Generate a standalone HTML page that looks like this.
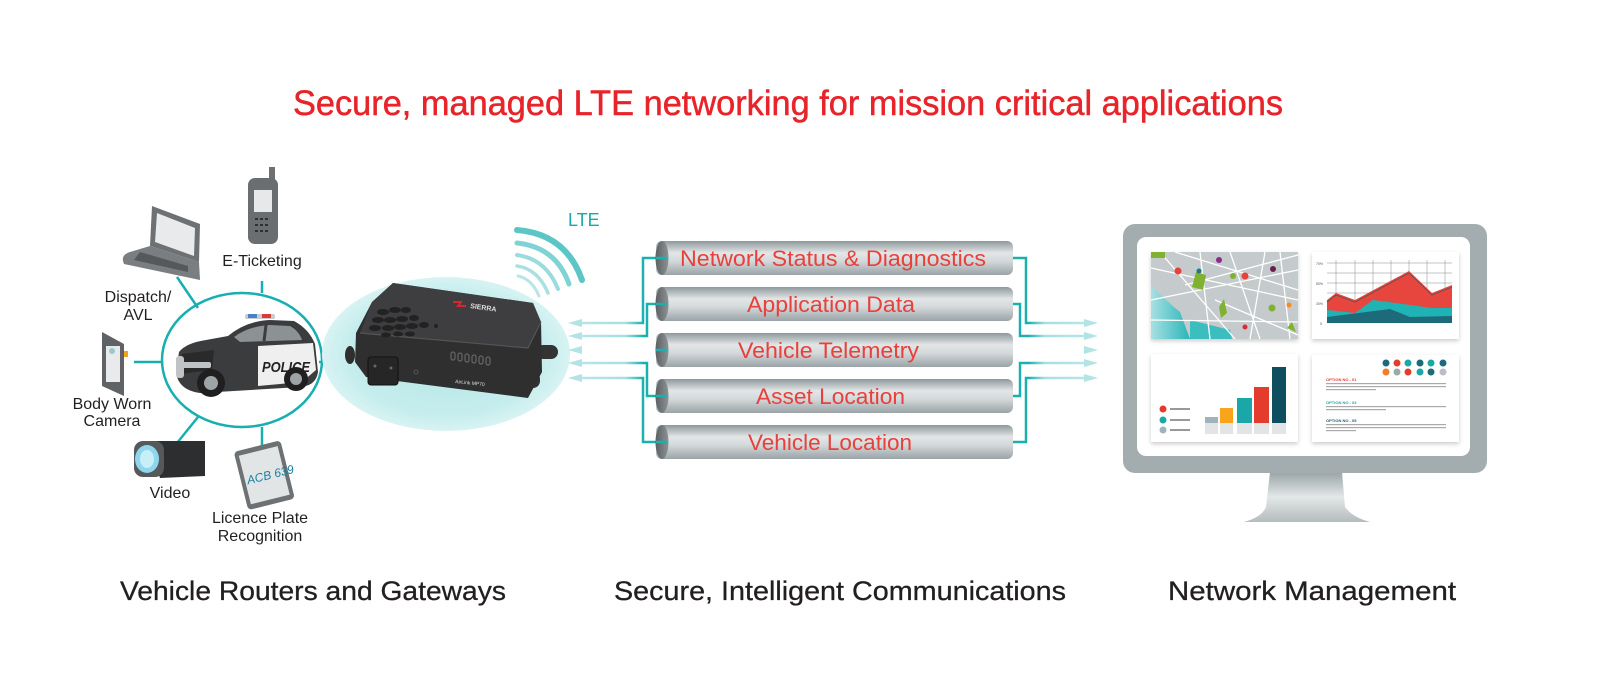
<!DOCTYPE html>
<html><head><meta charset="utf-8"><style>
html,body{margin:0;padding:0;background:#fff;width:1600px;height:700px;overflow:hidden}
svg{display:block}
text{font-family:"Liberation Sans",sans-serif}
</style></head><body>
<svg width="1600" height="700" viewBox="0 0 1600 700" xmlns="http://www.w3.org/2000/svg">
<defs>
<linearGradient id="pipe" x1="0" y1="0" x2="0" y2="1">
<stop offset="0" stop-color="#8e989b"/><stop offset="0.35" stop-color="#e2e6e7"/><stop offset="0.6" stop-color="#d3d8da"/><stop offset="1" stop-color="#9aa3a6"/></linearGradient>
<linearGradient id="pend" x1="0" y1="0" x2="1" y2="0">
<stop offset="0" stop-color="#5c6062"/><stop offset="1" stop-color="#8d9294"/></linearGradient>
<radialGradient id="glow" cx="0.5" cy="0.5" r="0.5">
<stop offset="0" stop-color="#b4e6e6"/><stop offset="0.8" stop-color="#c6eded"/><stop offset="1" stop-color="#d8f3f3"/></radialGradient>
<linearGradient id="arL" x1="0" y1="0" x2="1" y2="0">
<stop offset="0" stop-color="#b9e6e8"/><stop offset="0.55" stop-color="#a7dfe1"/><stop offset="0.75" stop-color="#1ab0b0"/></linearGradient>
<linearGradient id="arR" x1="0" y1="0" x2="1" y2="0">
<stop offset="0.25" stop-color="#1ab0b0"/><stop offset="0.45" stop-color="#a7dfe1"/><stop offset="1" stop-color="#b9e6e8"/></linearGradient>
<linearGradient id="neck" x1="0" y1="0" x2="0" y2="1">
<stop offset="0" stop-color="#9aa4a6"/><stop offset="0.5" stop-color="#e3e7e8"/><stop offset="1" stop-color="#b5bcbe"/></linearGradient>
<linearGradient id="water" x1="0" y1="0" x2="1" y2="0">
<stop offset="0" stop-color="#a8e0e2"/><stop offset="1" stop-color="#29b5b8"/></linearGradient>
<filter id="sh" x="-10%" y="-10%" width="120%" height="130%"><feDropShadow dx="0" dy="2" stdDeviation="2" flood-color="#000" flood-opacity="0.2"/></filter>
</defs>

<text x="293" y="115" font-size="35" fill="#e8242a" textLength="990" lengthAdjust="spacingAndGlyphs" stroke="#e8242a" stroke-width="0.5">Secure, managed LTE networking for mission critical applications</text>

<text x="120" y="600" font-size="27" fill="#231f20" textLength="386" lengthAdjust="spacingAndGlyphs" stroke="#231f20" stroke-width="0.3">Vehicle Routers and Gateways</text>
<text x="614" y="600" font-size="27" fill="#231f20" textLength="452" lengthAdjust="spacingAndGlyphs" stroke="#231f20" stroke-width="0.3">Secure, Intelligent Communications</text>
<text x="1168" y="600" font-size="27" fill="#231f20" textLength="288" lengthAdjust="spacingAndGlyphs" stroke="#231f20" stroke-width="0.3">Network Management</text>

<g stroke="#19aeb0" stroke-width="2.5" fill="none">
<ellipse cx="242" cy="360" rx="80" ry="67"/>
<line x1="262" y1="281" x2="262" y2="293"/>
<line x1="177" y1="277" x2="198" y2="308"/>
<line x1="134" y1="362" x2="163" y2="362"/>
<line x1="177" y1="443" x2="198" y2="417"/>
<line x1="262" y1="427" x2="262" y2="458"/>
<line x1="319" y1="362" x2="350" y2="362"/>
</g>

<ellipse cx="446" cy="354" rx="124" ry="77" fill="url(#glow)"/>

<g fill="none" stroke="#7fd3d4" stroke-linecap="round">
<path d="M517,230 Q566,234 582,280" stroke-width="6" stroke="#5cc6c7"/>
<path d="M517,243 Q556,247 569,284" stroke-width="5"/>
<path d="M517,255 Q546,259 558,289" stroke-width="4" stroke="#9adcdd"/>
<path d="M517,266 Q538,269 548,293" stroke-width="3.5" stroke="#a9e1e2"/>
<path d="M518,276 Q532,279 539,296" stroke-width="3" stroke="#b8e6e7"/>
</g>
<text x="568" y="226" font-size="18" fill="#1aa8a8">LTE</text>

<g>
<ellipse cx="350" cy="355" rx="5" ry="9" fill="#2f2f2f"/>
<rect x="536" y="345" width="22" height="14" rx="7" fill="#333"/>
<rect x="520" y="372" width="20" height="16" rx="7" fill="#333"/>
<path d="M393,283 L533,303 L541,322 L542,372 L528,398 L366,377 L355,362 L356,333 L372,302 Z" fill="#2f2f30"/>
<path d="M393,283 L533,303 L541,322 L528,348 L360,333 L372,302 Z" fill="#3e3e40"/>
<path d="M360,333 L528,348 L541,322" fill="none" stroke="#555" stroke-width="1.2"/>
<g fill="#222">
<ellipse cx="383" cy="312" rx="6" ry="3"/><ellipse cx="395" cy="310" rx="6" ry="3"/><ellipse cx="406" cy="310" rx="5" ry="3"/>
<ellipse cx="378" cy="320" rx="6" ry="3"/><ellipse cx="390" cy="320" rx="6" ry="3"/><ellipse cx="402" cy="319" rx="6" ry="3"/><ellipse cx="414" cy="318" rx="5" ry="3"/>
<ellipse cx="375" cy="328" rx="6" ry="3"/><ellipse cx="388" cy="328" rx="6" ry="3"/><ellipse cx="400" cy="327" rx="6" ry="3"/><ellipse cx="412" cy="326" rx="6" ry="3"/><ellipse cx="424" cy="325" rx="5" ry="3"/>
<ellipse cx="386" cy="335" rx="5" ry="2.5"/><ellipse cx="398" cy="334" rx="5" ry="2.5"/><ellipse cx="410" cy="334" rx="5" ry="2.5"/>
<circle cx="436" cy="326" r="2"/>
</g>
<path d="M453,302 l8,0 l-3,4 l8,0" stroke="#d8262c" stroke-width="2" fill="none"/>
<text x="470" y="308" font-size="7" fill="#ddd" font-weight="bold" transform="rotate(8 470 308)">SIERRA</text>
<rect x="368" y="357" width="30" height="28" rx="3" fill="#262627" stroke="#111"/>
<circle cx="375" cy="366" r="1.5" fill="#666"/><circle cx="391" cy="368" r="1.5" fill="#666"/>
<circle cx="416" cy="372" r="2" fill="none" stroke="#555"/>
<g fill="none" stroke="#666" stroke-width="1.2">
<rect x="451" y="352" width="4" height="8" rx="2"/><rect x="458" y="353" width="4" height="8" rx="2"/><rect x="465" y="354" width="4" height="8" rx="2"/><rect x="472" y="355" width="4" height="8" rx="2"/><rect x="479" y="356" width="4" height="8" rx="2"/><rect x="486" y="357" width="4" height="8" rx="2"/>
</g>
<text x="455" y="383" font-size="5" fill="#ddd" transform="rotate(6 455 383)">AirLink MP70</text>
</g>

<g>
<rect x="245" y="314" width="30" height="5" rx="2" fill="#ccc"/>
<rect x="248" y="314" width="9" height="4" fill="#4a7fd0"/><rect x="262" y="314" width="9" height="4" fill="#d93a3a"/>
<path d="M176,372 L179,352 Q186,343 206,340 L228,336 Q246,321 270,320 L294,321 Q309,329 315,344 L318,372 Q316,386 300,387 L200,393 Q178,390 176,372 Z" fill="#3b3c3e"/>
<path d="M234,337 Q249,326 270,325 L290,326 Q299,331 302,340 L240,342 Z" fill="#8c9194"/>
<line x1="266" y1="325" x2="264" y2="341" stroke="#3b3c3e" stroke-width="3"/>
<path d="M258,346 L313,343 L316,370 L302,382 L258,386 Z" fill="#efefef"/>
<text x="262" y="372" font-size="15" font-style="italic" font-weight="bold" fill="#222" textLength="48" lengthAdjust="spacingAndGlyphs">POLICE</text>
<path d="M182,354 L214,350 L212,370 L180,374 Z" fill="#2a2a2b"/>
<rect x="176" y="356" width="8" height="22" rx="3" fill="#bfc3c5"/>
<rect x="181" y="362" width="30" height="6" rx="2" fill="#bfc3c5"/>
<circle cx="211" cy="383" r="14" fill="#1f1f20"/><circle cx="211" cy="383" r="7" fill="#9ea3a6"/>
<circle cx="296" cy="379" r="12" fill="#1f1f20"/><circle cx="296" cy="379" r="6" fill="#9ea3a6"/>
</g>

<g>
<path d="M152,206 L200,224 L199,262 L150,246 Z" fill="#6d7174"/>
<path d="M157,213 L195,228 L194,256 L155,242 Z" fill="#e8eaeb"/>
<path d="M150,246 L199,262 L200,280 L124,264 Q120,255 130,252 Z" fill="#7a7e81"/>
<path d="M140,252 L188,266 L188,272 L134,260 Z" fill="#55595c"/>
</g>
<g>
<rect x="269" y="167" width="6" height="14" fill="#6d7174"/>
<rect x="248" y="178" width="30" height="66" rx="7" fill="#6a6e71"/>
<rect x="254" y="190" width="18" height="22" fill="#e6e8e9"/>
<g fill="#2e3032"><rect x="255" y="218" width="3" height="2"/><rect x="260" y="218" width="3" height="2"/><rect x="265" y="218" width="3" height="2"/><rect x="255" y="224" width="3" height="2"/><rect x="260" y="224" width="3" height="2"/><rect x="265" y="224" width="3" height="2"/><rect x="255" y="230" width="3" height="2"/><rect x="260" y="230" width="3" height="2"/><rect x="265" y="230" width="3" height="2"/></g>
</g>
<g>
<path d="M102,332 L124,344 L124,396 L102,386 Z" fill="#5f6366"/>
<rect x="106" y="346" width="14" height="36" fill="#e8eaeb"/>
<circle cx="112" cy="351" r="3" fill="#9bc7d3"/>
<rect x="124" y="351" width="4" height="6" fill="#f6a11c"/>
</g>
<g>
<path d="M148,441 L205,441 L205,476 L160,478 Z" fill="#2d2e30"/>
<rect x="134" y="441" width="30" height="36" rx="9" fill="#55595c"/>
<ellipse cx="147" cy="459" rx="12" ry="14" fill="#8fd6ec"/>
<ellipse cx="147" cy="459" rx="7" ry="9" fill="#c8eef8"/>
</g>
<g transform="rotate(-14 265 474)">
<rect x="240" y="445" width="48" height="60" rx="4" fill="#6d7174"/>
<rect x="244" y="450" width="40" height="50" fill="#e1e5e6"/>
<text x="246" y="480" font-size="12" fill="#1a7fa0" font-style="italic">ACB 639</text>
</g>

<g font-size="16" fill="#231f20" text-anchor="middle">
<text x="262" y="266">E-Ticketing</text>
<text x="138" y="302">Dispatch/</text>
<text x="138" y="320">AVL</text>
<text x="112" y="409">Body Worn</text>
<text x="112" y="426">Camera</text>
<text x="170" y="498">Video</text>
<text x="260" y="523">Licence Plate</text>
<text x="260" y="541">Recognition</text>
</g>

<g fill="none" stroke-width="2.5">
<polyline points="666,258 643,258 643,323 575,323" stroke="url(#arL)"/>
<polyline points="666,304 647,304 647,336 575,336" stroke="url(#arL)"/>
<polyline points="666,350 575,350" stroke="url(#arL)"/>
<polyline points="666,396 647,396 647,363 575,363" stroke="url(#arL)"/>
<polyline points="666,442 643,442 643,378 575,378" stroke="url(#arL)"/>
</g>
<g fill="#b3e3e5">
<polygon points="568,323 582,319 582,327"/><polygon points="568,336 582,332 582,340"/><polygon points="568,350 582,346 582,354"/><polygon points="568,363 582,359 582,367"/><polygon points="568,378 582,374 582,382"/>
</g>
<g fill="none" stroke-width="2.5">
<polyline points="1008,258 1026,258 1026,323 1090,323" stroke="url(#arR)"/>
<polyline points="1008,304 1020,304 1020,336 1090,336" stroke="url(#arR)"/>
<polyline points="1008,350 1090,350" stroke="url(#arR)"/>
<polyline points="1008,396 1020,396 1020,363 1090,363" stroke="url(#arR)"/>
<polyline points="1008,442 1026,442 1026,378 1090,378" stroke="url(#arR)"/>
</g>
<g fill="#b3e3e5">
<polygon points="1098,323 1084,319 1084,327"/><polygon points="1098,336 1084,332 1084,340"/><polygon points="1098,350 1084,346 1084,354"/><polygon points="1098,363 1084,359 1084,367"/><polygon points="1098,378 1084,374 1084,382"/>
</g>

<g>
<g transform="translate(0,241)"><rect x="656" y="0" width="357" height="34" rx="6" fill="url(#pipe)"/><ellipse cx="662" cy="17" rx="6.5" ry="17" fill="url(#pend)"/></g>
<g transform="translate(0,287)"><rect x="656" y="0" width="357" height="34" rx="6" fill="url(#pipe)"/><ellipse cx="662" cy="17" rx="6.5" ry="17" fill="url(#pend)"/></g>
<g transform="translate(0,333)"><rect x="656" y="0" width="357" height="34" rx="6" fill="url(#pipe)"/><ellipse cx="662" cy="17" rx="6.5" ry="17" fill="url(#pend)"/></g>
<g transform="translate(0,379)"><rect x="656" y="0" width="357" height="34" rx="6" fill="url(#pipe)"/><ellipse cx="662" cy="17" rx="6.5" ry="17" fill="url(#pend)"/></g>
<g transform="translate(0,425)"><rect x="656" y="0" width="357" height="34" rx="6" fill="url(#pipe)"/><ellipse cx="662" cy="17" rx="6.5" ry="17" fill="url(#pend)"/></g>
<g stroke="#1ab0b0" stroke-width="2.5"><line x1="656" y1="258" x2="667" y2="258"/><line x1="656" y1="304" x2="667" y2="304"/><line x1="656" y1="350" x2="667" y2="350"/><line x1="656" y1="396" x2="667" y2="396"/><line x1="656" y1="442" x2="667" y2="442"/></g>
</g>
<g font-size="22" fill="#e8403a">
<text x="680" y="266" textLength="306" lengthAdjust="spacingAndGlyphs">Network Status &amp; Diagnostics</text>
<text x="747" y="312" textLength="168" lengthAdjust="spacingAndGlyphs">Application Data</text>
<text x="738" y="358" textLength="181" lengthAdjust="spacingAndGlyphs">Vehicle Telemetry</text>
<text x="756" y="404" textLength="149" lengthAdjust="spacingAndGlyphs">Asset Location</text>
<text x="748" y="450" textLength="164" lengthAdjust="spacingAndGlyphs">Vehicle Location</text>
</g>

<g>
<path d="M1270,472 L1342,472 L1345,507 Q1352,517 1370,522 L1244,522 Q1262,517 1266,507 Z" fill="url(#neck)"/>
<rect x="1123" y="224" width="364" height="249" rx="12" fill="#a3adb0"/>
<rect x="1137" y="237" width="333" height="219" rx="9" fill="#fff"/>

<g filter="url(#sh)">
<rect x="1151" y="252" width="147" height="87" fill="#c5cacc"/>
</g>
<path d="M1151,285 Q1165,300 1180,312 L1190,339 L1151,339 Z" fill="url(#water)"/>
<path d="M1190,320 L1230,330 L1232,339 L1190,339 Z" fill="#3cbdc0"/>
<g stroke="#fff" stroke-width="1.3" fill="none">
<path d="M1151,268 L1298,300"/><path d="M1160,252 L1235,339"/><path d="M1200,252 L1210,339"/><path d="M1151,300 L1298,270"/>
<path d="M1230,252 L1260,339"/><path d="M1265,252 L1250,339"/><path d="M1151,320 L1298,322"/><path d="M1175,252 L1298,290"/>
<path d="M1280,252 L1290,339"/><path d="M1185,285 L1298,255"/><path d="M1215,300 L1298,335"/>
</g>
<g fill="#7fb32f"><rect x="1151" y="252" width="14" height="6"/><polygon points="1196,272 1206,275 1203,290 1192,287"/><polygon points="1219,307 1224,299 1227,313 1221,318"/><polygon points="1287,328 1292,322 1296,332"/><circle cx="1233" cy="276" r="3"/><circle cx="1272" cy="308" r="3.5"/></g>
<g><circle cx="1178" cy="271" r="3.5" fill="#e8403a"/><circle cx="1219" cy="260" r="3" fill="#8e2a8e"/><circle cx="1245" cy="276" r="3.5" fill="#e8403a"/><circle cx="1273" cy="269" r="3" fill="#6a1f4f"/><circle cx="1199" cy="271" r="2.5" fill="#1a7a8a"/><circle cx="1245" cy="327" r="2.5" fill="#d72a3a"/><circle cx="1289" cy="305" r="2.5" fill="#f28b2a"/></g>

<rect x="1312" y="252" width="147" height="87" fill="#fff" filter="url(#sh)"/>
<g stroke="#888" stroke-width="0.5"><line x1="1327" y1="263" x2="1452" y2="263"/><line x1="1327" y1="273" x2="1452" y2="273"/><line x1="1327" y1="283" x2="1452" y2="283"/><line x1="1327" y1="293" x2="1452" y2="293"/><line x1="1327" y1="303" x2="1452" y2="303"/><line x1="1327" y1="313" x2="1452" y2="313"/>
<line x1="1336" y1="260" x2="1336" y2="323"/><line x1="1355" y1="260" x2="1355" y2="323"/><line x1="1373" y1="260" x2="1373" y2="323"/><line x1="1391" y1="260" x2="1391" y2="323"/><line x1="1409" y1="260" x2="1409" y2="323"/><line x1="1427" y1="260" x2="1427" y2="323"/><line x1="1445" y1="260" x2="1445" y2="323"/></g>
<polygon points="1327,300 1336,293 1355,300 1409,271 1432,293 1452,285 1452,323 1327,323" fill="#e6463d"/>
<polygon points="1327,310 1355,313 1373,300 1432,308 1452,308 1452,323 1327,323" fill="#1fb3b5"/>
<polygon points="1327,317 1390,309 1410,317 1452,316 1452,323 1327,323" fill="#1d6a7a"/>
<polyline points="1327,302 1336,295 1355,302 1409,273 1432,295 1452,287" fill="none" stroke="#555" stroke-width="0.8"/>
<g font-size="3.5" fill="#555"><text x="1316" y="265">70%</text><text x="1316" y="285">50%</text><text x="1316" y="305">30%</text><text x="1320" y="325">0</text></g>

<rect x="1151" y="354" width="147" height="88" fill="#fff" filter="url(#sh)"/>
<g>
<rect x="1205" y="417" width="13" height="17" fill="#9fb3bb"/><rect x="1205" y="423" width="13" height="11" fill="#e2e4e5"/>
<rect x="1220" y="408" width="13" height="26" fill="#f9a51b"/><rect x="1220" y="423" width="13" height="11" fill="#e2e4e5"/>
<rect x="1237" y="398" width="15" height="36" fill="#1aa7a7"/><rect x="1237" y="423" width="15" height="11" fill="#e2e4e5"/>
<rect x="1254" y="387" width="15" height="47" fill="#e33b2e"/><rect x="1254" y="423" width="15" height="11" fill="#e2e4e5"/>
<rect x="1272" y="367" width="14" height="67" fill="#0d4f5e"/><rect x="1272" y="423" width="14" height="11" fill="#e2e4e5"/>
<circle cx="1163" cy="409" r="3.5" fill="#e33b2e"/><circle cx="1163" cy="420" r="3.5" fill="#1aa7a7"/><circle cx="1163" cy="430" r="3.5" fill="#9fb3bb"/>
<rect x="1170" y="408" width="20" height="2" fill="#999"/><rect x="1170" y="419" width="20" height="2" fill="#999"/><rect x="1170" y="429" width="20" height="2" fill="#999"/>
</g>

<rect x="1312" y="355" width="147" height="87" fill="#fff" filter="url(#sh)"/>
<g>
<circle cx="1386" cy="363" r="3.5" fill="#1d6a7a"/><circle cx="1397" cy="363" r="3.5" fill="#e33b2e"/><circle cx="1408" cy="363" r="3.5" fill="#1aa7a7"/><circle cx="1420" cy="363" r="3.5" fill="#1d6a7a"/><circle cx="1431" cy="363" r="3.5" fill="#1aa7a7"/><circle cx="1443" cy="363" r="3.5" fill="#1d6a7a"/>
<circle cx="1386" cy="372" r="3.5" fill="#f57c20"/><circle cx="1397" cy="372" r="3.5" fill="#9aa"/><circle cx="1408" cy="372" r="3.5" fill="#e33b2e"/><circle cx="1420" cy="372" r="3.5" fill="#1aa7a7"/><circle cx="1431" cy="372" r="3.5" fill="#1d6a7a"/><circle cx="1443" cy="372" r="3.5" fill="#bbc"/>
<text x="1326" y="381" font-size="4" font-weight="bold" fill="#e33b2e">OPTION NO - 01</text>
<rect x="1326" y="383" width="120" height="1.2" fill="#aaa"/><rect x="1326" y="386" width="120" height="1.2" fill="#aaa"/><rect x="1326" y="389" width="50" height="1.2" fill="#aaa"/>
<text x="1326" y="404" font-size="4" font-weight="bold" fill="#1aa7a7">OPTION NO - 03</text>
<rect x="1326" y="406" width="120" height="1.2" fill="#aaa"/><rect x="1326" y="409" width="60" height="1.2" fill="#aaa"/>
<text x="1326" y="422" font-size="4" font-weight="bold" fill="#1d5a6a">OPTION NO - 05</text>
<rect x="1326" y="424" width="120" height="1.2" fill="#aaa"/><rect x="1326" y="427" width="120" height="1.2" fill="#aaa"/><rect x="1326" y="430" width="30" height="1.2" fill="#aaa"/>
</g>
</g>
</svg>
</body></html>
